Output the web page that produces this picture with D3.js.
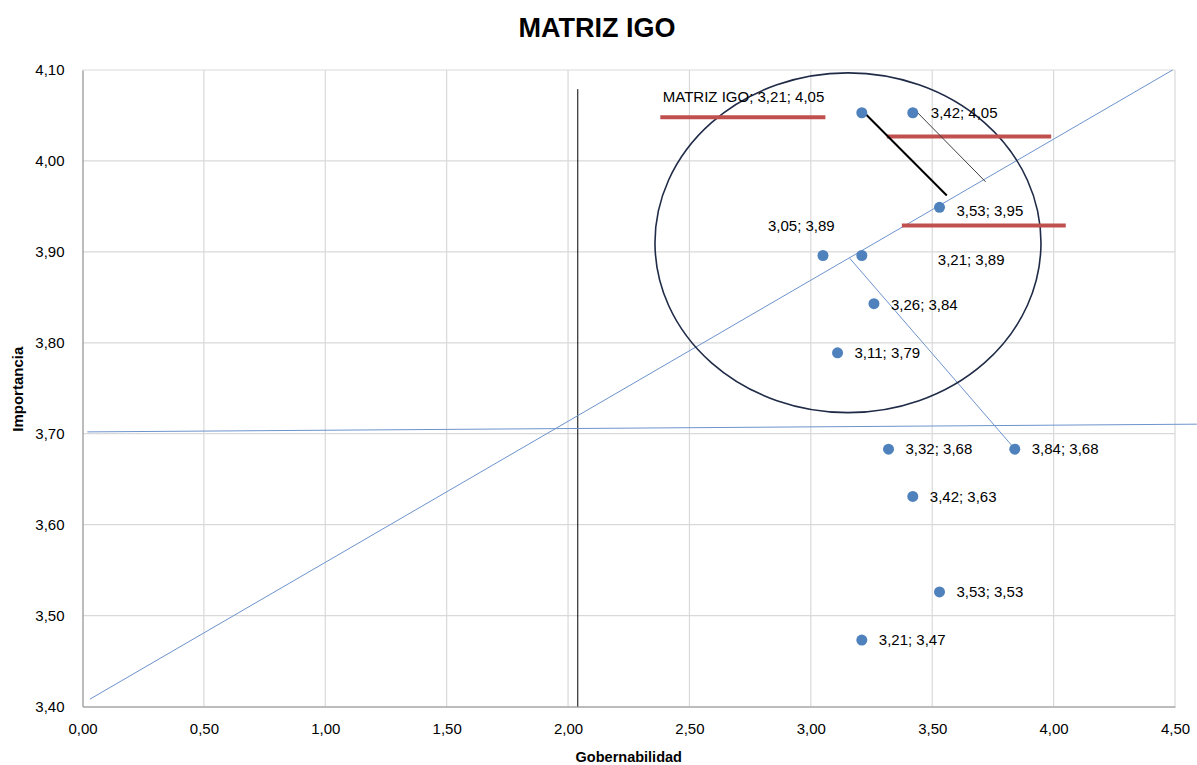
<!DOCTYPE html>
<html>
<head>
<meta charset="utf-8">
<script src="https://cdn.jsdelivr.net/npm/d3@7"></script>
<style>
  html, body { margin: 0; padding: 0; background: #fff; }
  svg { display: block; font-family: "Liberation Sans", Arial, sans-serif; }
</style>
</head>
<body>
<svg id="chart" width="1197" height="765"></svg>
<script>
// ---- Data ----
const title = "MATRIZ IGO";
const xTitle = "Gobernabilidad";
const yTitle = "Importancia";
const xTicks = [0, 0.5, 1, 1.5, 2, 2.5, 3, 3.5, 4, 4.5];
const yTicks = [3.4, 3.5, 3.6, 3.7, 3.8, 3.9, 4.0, 4.1];
const gobernabilidad = [3.21, 3.42, 3.53, 3.05, 3.21, 3.26, 3.11, 3.32, 3.84, 3.42, 3.53, 3.21];
const importancia    = [4.053, 4.053, 3.949, 3.896, 3.896, 3.843, 3.789, 3.683, 3.683, 3.631, 3.526, 3.473];
const pointLabels = ["MATRIZ IGO; 3,21; 4,05", "3,42; 4,05", "3,53; 3,95", "3,05; 3,89", "3,21; 3,89",
                     "3,26; 3,84", "3,11; 3,79", "3,32; 3,68", "3,84; 3,68", "3,42; 3,63", "3,53; 3,53", "3,21; 3,47"];
// label offsets in pixels (style)
const labelDx = [-199, 18, 17, -55, 76, 17, 17, 17, 17, 17, 17, 17];
const labelDy = [-16, 0, 3, -30, 4, 1, 0, 0, 0, 0, 0, 0];

// annotation shapes in data coordinates
const blueLines = [
  [[0.03, 3.408], [4.49, 4.10]],
  [[0.02, 3.702], [4.59, 3.7105]],
  [[3.16, 3.893], [3.841, 3.683]]
];
const blackVLine = [[2.04, 4.079], [2.04, 3.40]];
const blackLine = [[3.209, 4.056], [3.56, 3.962]];
const grayLine = [[3.44, 4.053], [3.72, 3.977]];
const redBars = [
  [[2.38, 4.048], [3.06, 4.048]],
  [[3.313, 4.027], [3.99, 4.027]],
  [[3.375, 3.929], [4.05, 3.929]]
];
const ellipseCenter = [3.153, 3.910];
const ellipseRadii = [0.795, 0.1868];

// ---- Layout ----
const svg = d3.select("#chart");
const x = d3.scaleLinear().domain([0, 4.5]).range([82.5, 1175]);
const y = d3.scaleLinear().domain([3.4, 4.1]).range([706.5, 70]);
const fmt = d => d.toFixed(2).replace(".", ",");

// gridlines
svg.append("g").selectAll("line.v").data(xTicks.slice(1)).join("line")
  .attr("x1", d => x(d)).attr("x2", d => x(d))
  .attr("y1", y(4.1)).attr("y2", y(3.4))
  .attr("stroke", "#d9d9d9").attr("stroke-width", 1.2);
svg.append("g").selectAll("line.h").data(yTicks.slice(1)).join("line")
  .attr("x1", x(0)).attr("x2", x(4.5))
  .attr("y1", d => y(d)).attr("y2", d => y(d))
  .attr("stroke", "#d9d9d9").attr("stroke-width", 1.2);

// axes
const xAxis = d3.axisBottom(x).tickValues(xTicks).tickFormat(fmt).tickSize(0).tickPadding(17);
const yAxis = d3.axisLeft(y).tickValues(yTicks).tickFormat(fmt).tickSize(0).tickPadding(18);
const gx = svg.append("g").attr("transform", `translate(0,${y(3.4)})`).call(xAxis);
const gy = svg.append("g").attr("transform", `translate(${x(0)},0)`).call(yAxis);
[gx, gy].forEach(g => {
  g.select(".domain").attr("stroke", "#a6a6a6").attr("stroke-width", 1.5);
  g.selectAll("text").attr("font-size", 15).attr("fill", "#000")
    .attr("font-family", "Liberation Sans, Arial, sans-serif");
});

const line = d3.line().x(d => x(d[0])).y(d => y(d[1]));

// black vertical line
svg.append("path").attr("d", line(blackVLine)).attr("stroke", "#000").attr("stroke-width", 1).attr("fill", "none");

// blue lines
svg.append("g").selectAll("path").data(blueLines).join("path")
  .attr("d", line).attr("stroke", "#6d93cc").attr("stroke-width", 1).attr("fill", "none");

// ellipse
svg.append("ellipse")
  .attr("cx", x(ellipseCenter[0])).attr("cy", y(ellipseCenter[1]))
  .attr("rx", x(ellipseRadii[0]) - x(0)).attr("ry", y(3.4) - y(3.4 + ellipseRadii[1]))
  .attr("fill", "none").attr("stroke", "#1f2b47").attr("stroke-width", 1.6);

// red bars
svg.append("g").selectAll("path").data(redBars).join("path")
  .attr("d", line).attr("stroke", "#c0504d").attr("stroke-width", 4).attr("fill", "none");

// connector lines
svg.append("path").attr("d", line(blackLine)).attr("stroke", "#000").attr("stroke-width", 2).attr("fill", "none");
svg.append("path").attr("d", line(grayLine)).attr("stroke", "#404040").attr("stroke-width", 1).attr("fill", "none");

// points
const pts = gobernabilidad.map((g, i) => ({ g, imp: importancia[i], label: pointLabels[i], dx: labelDx[i], dy: labelDy[i] }));
svg.append("g").selectAll("circle").data(pts).join("circle")
  .attr("cx", d => x(d.g)).attr("cy", d => y(d.imp)).attr("r", 5.5)
  .attr("fill", "#4f81bd");

svg.append("g").selectAll("text").data(pts).join("text")
  .attr("x", d => x(d.g) + d.dx).attr("y", d => y(d.imp) + d.dy)
  .attr("dy", "0.35em").attr("font-size", 15).attr("fill", "#000")
  .text(d => d.label);

// titles
svg.append("text").attr("x", 597).attr("y", 37).attr("text-anchor", "middle")
  .attr("font-size", 27).attr("font-weight", "bold").text(title);
svg.append("text").attr("x", (x(0) + x(4.5)) / 2).attr("y", 762).attr("text-anchor", "middle")
  .attr("font-size", 14.5).attr("font-weight", "bold").text(xTitle);
svg.append("text").attr("transform", `translate(23,${(y(3.4) + y(4.1)) / 2 + 1}) rotate(-90)`)
  .attr("text-anchor", "middle").attr("font-size", 15).attr("font-weight", "bold").text(yTitle);
</script>
</body>
</html>
